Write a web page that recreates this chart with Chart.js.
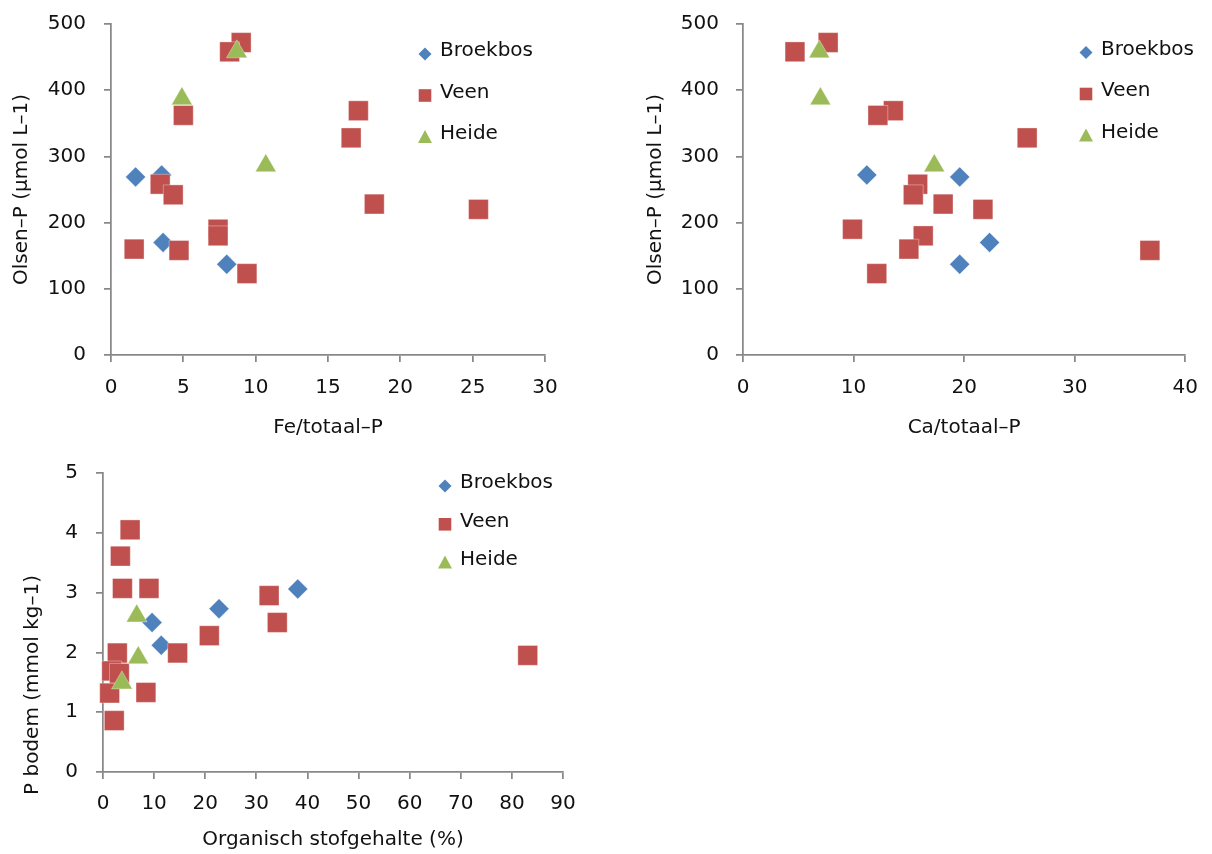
<!DOCTYPE html>
<html>
<head>
<meta charset="utf-8">
<title>Olsen-P en P bodem</title>
<script src="https://cdn.jsdelivr.net/npm/chart.js"></script>
<style>
  body { margin: 0; background: #fff; }
  canvas { position: absolute; }
</style>
</head>
<body>
<canvas id="c1" width="600" height="440" style="left:0;top:0"></canvas>
<canvas id="c2" width="592" height="440" style="left:620px;top:0"></canvas>
<canvas id="c3" width="600" height="414" style="left:0;top:440px"></canvas>

<script>
const seriesNames = ['Broekbos', 'Veen', 'Heide'];

// Olsen-P (µmol L-1) per monster, zelfde volgorde voor Fe en Ca
const olsenBroekbos = [272, 269, 170, 137];
const feBroekbos = [3.5, 1.7, 3.6, 8.0];
const caBroekbos = [11.2, 19.6, 22.3, 19.6];

const olsenVeen = [472, 458, 369, 362, 328, 258, 242, 228, 220, 190, 180, 160, 158, 123];
const feVeen = [9.0, 8.2, 17.1, 5.0, 16.6, 3.4, 4.3, 18.2, 25.4, 7.4, 7.4, 1.6, 4.7, 9.4];
const caVeen = [7.7, 4.7, 13.6, 12.2, 25.7, 15.8, 15.4, 18.1, 21.7, 9.9, 16.3, 15.0, 36.8, 12.1];

const olsenHeide = [458, 387, 286];
const feHeide = [8.7, 4.9, 10.7];
const caHeide = [6.9, 7.0, 17.3];

// organisch stofgehalte (%) tegen P bodem (mmol kg-1)
const osBroekbos = [9.6, 11.4, 22.7, 38.1];
const pBroekbos = [2.50, 2.12, 2.73, 3.06];
const osVeen = [5.3, 3.4, 3.8, 9.0, 32.5, 34.1, 20.8, 14.6, 2.8, 1.7, 3.2, 1.3, 8.4, 2.2, 83.1];
const pVeen = [4.05, 3.61, 3.07, 3.07, 2.95, 2.50, 2.28, 1.99, 1.99, 1.69, 1.65, 1.32, 1.33, 0.86, 1.95];
const osHeide = [6.6, 6.9, 3.7];
const pHeide = [2.61, 1.91, 1.49];

// asbereik: [min, max, stap]
const olsenRange = [0, 500, 100];
const feRange = [0, 30, 5];
const caRange = [0, 40, 10];
const osRange = [0, 90, 10];
const pRange = [0, 5, 1];

const FONT = 'DejaVu Sans';
const TEXT = '#111';
const AXIS = '#888888';
const colors = ['#4F81BD', '#C0504D', '#9BBB59'];
const shapes = ['rectRot', 'rect', 'triangle'];
const radii = [10, 14, 12];

function pairs(xs, ys) {
  return xs.map((x, i) => ({ x: x, y: ys[i] }));
}

function datasets(xLists, yLists) {
  return seriesNames.map((name, i) => ({
    label: name,
    data: pairs(xLists[i], yLists[i]),
    pointStyle: shapes[i],
    pointRadius: radii[i],
    pointHoverRadius: radii[i],
    backgroundColor: colors[i],
    borderColor: 'rgba(255,255,255,0.35)',
    borderWidth: 1,
    order: 2 - i,
    clip: false
  }));
}

function axis(range, title, o) {
  return {
    type: 'linear',
    min: range[0],
    max: range[1],
    ticks: {
      stepSize: range[2],
      color: TEXT,
      font: { family: FONT, size: 20 },
      padding: o.tickPad
    },
    grid: { drawOnChartArea: false, drawTicks: true, tickLength: 7, color: AXIS, lineWidth: 1.75 },
    border: { color: AXIS, width: 1.75 },
    title: {
      display: !!title,
      text: title,
      color: TEXT,
      font: { family: FONT, size: 20 },
      padding: o.titlePad
    },
    afterFit(scale) {
      // vaste asmaten, het plotvlak volgt uit layout.padding
      if (o.width) {
        scale.width = o.width;
        scale.paddingTop = 0;
        scale.paddingBottom = 0;
      }
      if (o.height) scale.height = o.height;
    }
  };
}

function drawMarker(ctx, style, x, y, r, color) {
  ctx.beginPath();
  if (style === 'rect') {
    ctx.rect(x - r, y - r, 2 * r, 2 * r);
  } else if (style === 'rectRot') {
    ctx.moveTo(x, y - r);
    ctx.lineTo(x + r, y);
    ctx.lineTo(x, y + r);
    ctx.lineTo(x - r, y);
  } else {
    ctx.moveTo(x, y - r);
    ctx.lineTo(x + r, y + r * 0.85);
    ctx.lineTo(x - r, y + r * 0.85);
  }
  ctx.closePath();
  ctx.fillStyle = color;
  ctx.fill();
}

// legenda in het plotvlak, plus een losse y-titel waar nodig
const overlay = {
  id: 'overlay',
  afterDraw(chart, args, opts) {
    const ctx = chart.ctx;
    ctx.save();
    ctx.font = '20px "' + FONT + '"';
    ctx.textBaseline = 'middle';
    const legendR = [6.5, 6.3, 7];
    chart.data.datasets.forEach((ds, i) => {
      const y = opts.y + i * opts.gap;
      drawMarker(ctx, ds.pointStyle, opts.x, y + 3, legendR[i], ds.backgroundColor);
      ctx.fillStyle = TEXT;
      ctx.textAlign = 'left';
      ctx.fillText(ds.label, opts.x + 15, y);
    });
    if (opts.yTitle) {
      ctx.translate(opts.yTitle.x, opts.yTitle.y);
      ctx.rotate(-Math.PI / 2);
      ctx.textAlign = 'center';
      ctx.fillStyle = TEXT;
      ctx.fillText(opts.yTitle.text, 0, 0);
    }
    ctx.restore();
  }
};

function makeChart(id, sets, xAxis, yAxis, padding, legend) {
  return new Chart(document.getElementById(id), {
    type: 'scatter',
    data: { datasets: sets },
    options: {
      responsive: false,
      animation: false,
      events: [],
      layout: { padding: padding },
      scales: { x: xAxis, y: yAxis },
      plugins: {
        legend: { display: false },
        tooltip: { enabled: false },
        overlay: legend
      }
    },
    plugins: [overlay]
  });
}

makeChart('c1',
  datasets([feBroekbos, feVeen, feHeide], [olsenBroekbos, olsenVeen, olsenHeide]),
  axis(feRange, 'Fe/totaal–P', { tickPad: 14, titlePad: { top: 0, bottom: 0 }, height: 85 }),
  axis(olsenRange, 'Olsen–P (µmol L–1)', { tickPad: 18, titlePad: { top: 10, bottom: 0 }, width: 111 }),
  { left: 0, right: 55, top: 24, bottom: 0 },
  { x: 425, y: 51, gap: 41.5 });

makeChart('c2',
  datasets([caBroekbos, caVeen, caHeide], [olsenBroekbos, olsenVeen, olsenHeide]),
  axis(caRange, 'Ca/totaal–P', { tickPad: 14, titlePad: { top: 0, bottom: 0 }, height: 85 }),
  axis(olsenRange, 'Olsen–P (µmol L–1)', { tickPad: 17, titlePad: { top: 24, bottom: 0 }, width: 123 }),
  { left: 0, right: 24, top: 24, bottom: 0 },
  { x: 466, y: 49.5, gap: 41.5 });

makeChart('c3',
  datasets([osBroekbos, osVeen, osHeide], [pBroekbos, pVeen, pHeide]),
  axis(osRange, 'Organisch stofgehalte (%)', { tickPad: 13, titlePad: { top: 0, bottom: 2 }, height: 82 }),
  axis(pRange, '', { tickPad: 18, titlePad: 0, width: 103 }),
  { left: 0, right: 37, top: 33, bottom: 0 },
  { x: 445, y: 43, gap: 38.3, yTitle: { text: 'P bodem (mmol kg–1)', x: 33, y: 245 } });
</script>
</body>
</html>
